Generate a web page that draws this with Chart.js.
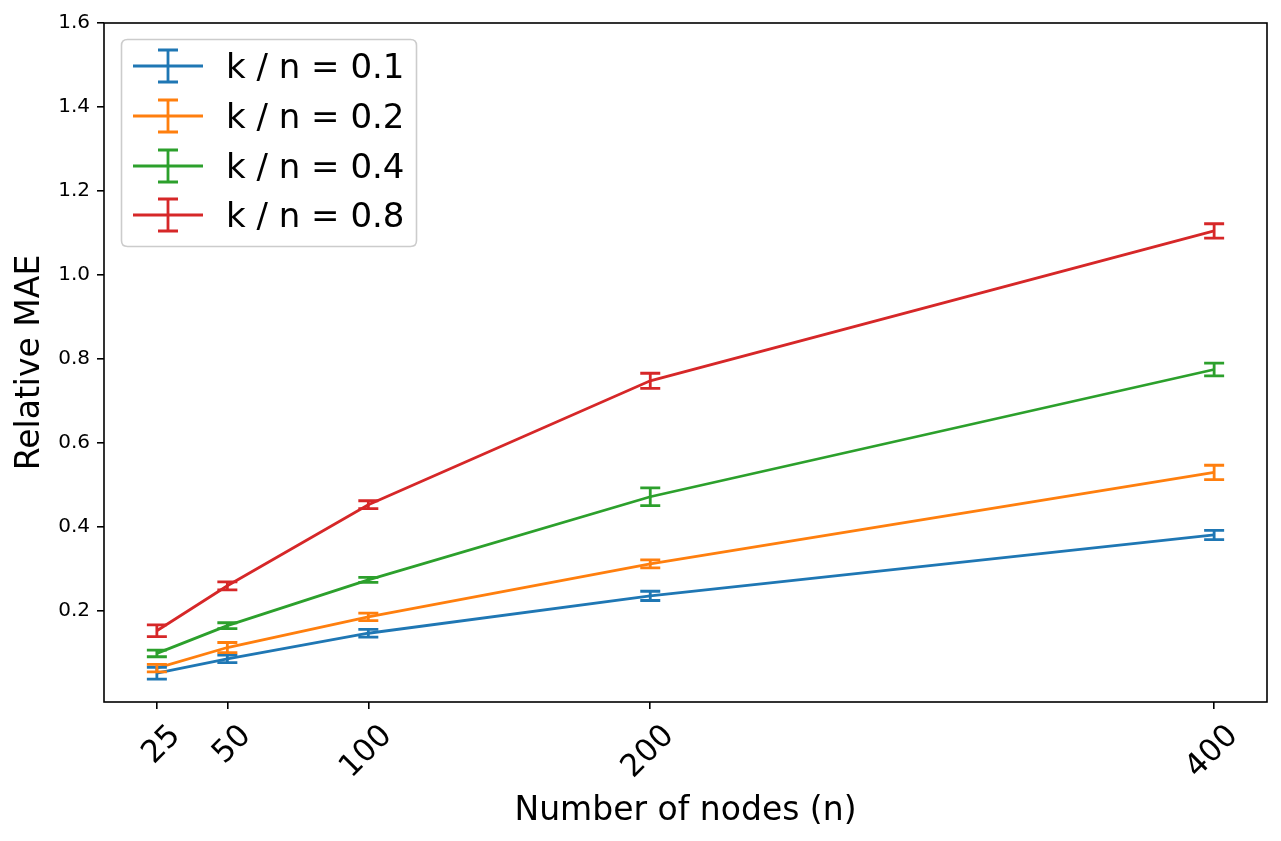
<!DOCTYPE html>
<html>
<head>
<meta charset="utf-8">
<script src="https://cdn.jsdelivr.net/npm/chart.js@4.4.1/dist/chart.umd.min.js"></script>
<style>
  html, body { margin: 0; padding: 0; background: #ffffff; }
  #wrap { width: 1281px; height: 841px; position: relative; }
</style>
</head>
<body>
<div id="wrap"><canvas id="c"></canvas></div>
<script>
// ---- data ----
const nodeCounts = [25, 50, 100, 200, 400];
const xTickLabels = ['25', '50', '100', '200', '400'];
const yTickValues = [0.2, 0.4, 0.6, 0.8, 1.0, 1.2, 1.4, 1.6];
const seriesLabels = ['k / n = 0.1', 'k / n = 0.2', 'k / n = 0.4', 'k / n = 0.8'];

const mae01 = [0.052, 0.086, 0.147, 0.236, 0.381];
const err01 = [0.014, 0.009, 0.009, 0.011, 0.011];
const mae02 = [0.064, 0.113, 0.186, 0.312, 0.530];
const err02 = [0.009, 0.012, 0.009, 0.0095, 0.017];
const mae04 = [0.099, 0.165, 0.274, 0.472, 0.775];
const err04 = [0.008, 0.007, 0.006, 0.021, 0.015];
const mae08 = [0.153, 0.260, 0.453, 0.748, 1.105];
const err08 = [0.014, 0.0095, 0.0095, 0.018, 0.017];

const xTitle = 'Number of nodes (n)';
const yTitle = 'Relative MAE';

// ---- style ----
const colors = ['#1f77b4', '#ff7f0e', '#2ca02c', '#d62728'];
const FONT = '"DejaVu Sans", "Liberation Sans", sans-serif';
const LINE_W = 2.8;
const CAP_HALF = 10;

const seriesValues = [mae01, mae02, mae04, mae08];
const seriesErrors = [err01, err02, err04, err08];

const datasets = seriesLabels.map((lab, i) => ({
  label: lab,
  data: nodeCounts.map((x, j) => ({ x: x, y: seriesValues[i][j] })),
  errors: seriesErrors[i],
  borderColor: colors[i],
  backgroundColor: colors[i],
  borderWidth: LINE_W,
  pointRadius: 0,
  pointHoverRadius: 0,
  tension: 0,
  fill: false,
  order: seriesLabels.length - i
}));

const errorBarPlugin = {
  id: 'errorBars',
  afterDatasetsDraw(chart) {
    const ctx = chart.ctx;
    const xs = chart.scales.x, ys = chart.scales.y;
    ctx.save();
    const a = chart.chartArea;
    ctx.beginPath();
    ctx.rect(a.left, a.top, a.right - a.left, a.bottom - a.top);
    ctx.clip();
    chart.data.datasets.forEach((ds, i) => {
      ctx.strokeStyle = ds.borderColor;
      ctx.lineWidth = LINE_W;
      ctx.lineCap = 'butt';
      ds.data.forEach((p, j) => {
        const e = ds.errors[j];
        const px = xs.getPixelForValue(p.x);
        const yLo = ys.getPixelForValue(p.y - e);
        const yHi = ys.getPixelForValue(p.y + e);
        ctx.beginPath();
        ctx.moveTo(px, yLo); ctx.lineTo(px, yHi);
        ctx.moveTo(px - CAP_HALF, yLo); ctx.lineTo(px + CAP_HALF, yLo);
        ctx.moveTo(px - CAP_HALF, yHi); ctx.lineTo(px + CAP_HALF, yHi);
        ctx.stroke();
      });
    });
    ctx.restore();
  }
};

const framePlugin = {
  id: 'frameAndLegend',
  afterDraw(chart) {
    const ctx = chart.ctx;
    const a = chart.chartArea;
    ctx.save();
    // spines
    ctx.strokeStyle = '#000000';
    ctx.lineWidth = 1.6;
    ctx.strokeRect(a.left, a.top, a.right - a.left, a.bottom - a.top);

    // legend
    const bx = 121.5, by = 39.5, bw = 295, bh = 207, r = 6;
    ctx.beginPath();
    ctx.moveTo(bx + r, by);
    ctx.lineTo(bx + bw - r, by);
    ctx.quadraticCurveTo(bx + bw, by, bx + bw, by + r);
    ctx.lineTo(bx + bw, by + bh - r);
    ctx.quadraticCurveTo(bx + bw, by + bh, bx + bw - r, by + bh);
    ctx.lineTo(bx + r, by + bh);
    ctx.quadraticCurveTo(bx, by + bh, bx, by + bh - r);
    ctx.lineTo(bx, by + r);
    ctx.quadraticCurveTo(bx, by, bx + r, by);
    ctx.closePath();
    ctx.fillStyle = 'rgba(255,255,255,0.8)';
    ctx.fill();
    ctx.strokeStyle = '#cccccc';
    ctx.lineWidth = 1.6;
    ctx.stroke();

    const rowY = [66, 116, 166, 215];
    chart.data.datasets.forEach((ds, i) => {
      const y = rowY[i];
      ctx.strokeStyle = ds.borderColor;
      ctx.lineWidth = LINE_W;
      ctx.beginPath();
      ctx.moveTo(133, y); ctx.lineTo(203, y);
      ctx.moveTo(168, y - 16); ctx.lineTo(168, y + 16);
      ctx.moveTo(158, y - 16); ctx.lineTo(178, y - 16);
      ctx.moveTo(158, y + 16); ctx.lineTo(178, y + 16);
      ctx.stroke();
      ctx.fillStyle = '#000000';
      ctx.font = '34px ' + FONT;
      ctx.textAlign = 'left';
      ctx.textBaseline = 'alphabetic';
      ctx.fillText(ds.label, 226, y + 12);
    });
    ctx.restore();
  }
};

new Chart(document.getElementById('c'), {
  type: 'line',
  data: { datasets: datasets },
  options: {
    responsive: true,
    maintainAspectRatio: false,
    animation: false,
    devicePixelRatio: 1,
    layout: { padding: { left: 0, top: 23, right: 14, bottom: 0 } },
    plugins: {
      legend: { display: false },
      tooltip: { enabled: false }
    },
    scales: {
      x: {
        type: 'linear',
        min: 6.25,
        max: 418.75,
        afterBuildTicks: (s) => { s.ticks = nodeCounts.map(v => ({ value: v })); },
        afterFit: (s) => { s.height = 139; },
        border: { display: false },
        grid: { display: true, drawOnChartArea: false, drawTicks: true, tickLength: 7, color: '#000000', lineWidth: 1.6 },
        ticks: {
          autoSkip: false,
          minRotation: 45,
          maxRotation: 45,
          padding: 9,
          labelOffset: 19,
          color: '#000000',
          font: { family: FONT, size: 31 },
          callback: (v) => xTickLabels[nodeCounts.indexOf(v)]
        },
        title: {
          display: true,
          text: xTitle,
          color: '#000000',
          font: { family: FONT, size: 33 },
          padding: { top: 0, bottom: 10 }
        }
      },
      y: {
        type: 'linear',
        min: -0.0167,
        max: 1.6,
        afterBuildTicks: (s) => { s.ticks = yTickValues.map(v => ({ value: v })); },
        afterFit: (s) => { s.width = 104; },
        border: { display: false },
        grid: { display: true, drawOnChartArea: false, drawTicks: true, tickLength: 7, color: '#000000', lineWidth: 1.6 },
        ticks: {
          padding: 7,
          color: '#000000',
          font: { family: FONT, size: 20 },
          callback: (v) => Number(v).toFixed(1)
        },
        title: {
          display: true,
          text: yTitle,
          color: '#000000',
          font: { family: FONT, size: 33 },
          padding: { top: 11, bottom: 0 }
        }
      }
    }
  },
  plugins: [errorBarPlugin, framePlugin]
});
</script>
</body>
</html>
